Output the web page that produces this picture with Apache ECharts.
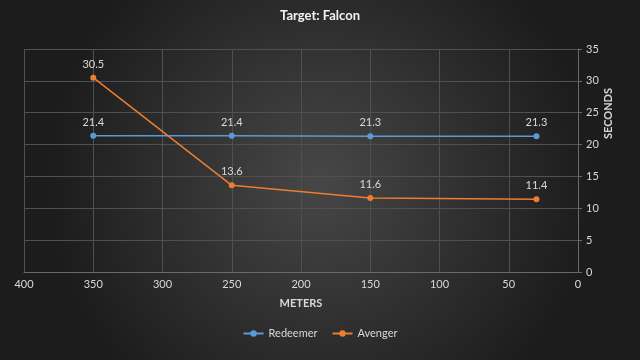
<!DOCTYPE html>
<html><head><meta charset="utf-8">
<script src="https://cdn.jsdelivr.net/npm/echarts@6/dist/echarts.min.js"></script>
<style>html,body{margin:0;padding:0;background:#2a2a2a}#c{width:640px;height:360px}</style>
</head><body><div id="c"></div>
<script>
const meters = [350, 250, 150, 30];
const redeemer = [21.4, 21.4, 21.3, 21.3];
const avenger = [30.5, 13.6, 11.6, 11.4];
const xTicks = [0, 400, 50];
const yTicks = [0, 35, 5];

const chart = echarts.init(document.getElementById('c'));
const font = 'Lato, "Open Sans", sans-serif';
const lbl = {show: true, position: 'top', color: '#d9d9d9', fontSize: 11, fontFamily: font, distance: 5, formatter: p => p.value[1].toFixed(1)};
chart.setOption({
  backgroundColor: {type: 'radial', x: 0.5, y: 0.5, r: 0.75, colorStops: [{offset: 0, color: '#474747'}, {offset: 1, color: '#1c1c1c'}]},
  animation: false,
  title: {text: 'Target: Falcon', left: 'center', top: 4, textStyle: {color: '#f2f2f2', fontSize: 13, fontWeight: 'bold', fontFamily: font}},
  grid: {left: 24, right: 62, top: 49, bottom: 88},
  legend: {bottom: 16, left: 'center', itemWidth: 20, itemHeight: 8, itemGap: 14,
    textStyle: {color: '#d9d9d9', fontSize: 11, fontFamily: font},
    data: ['Redeemer', 'Avenger']},
  xAxis: {type: 'value', inverse: true, min: xTicks[0], max: xTicks[1], interval: xTicks[2],
    name: 'METERS', nameLocation: 'middle', nameGap: 26,
    nameTextStyle: {color: '#d9d9d9', fontSize: 11, fontWeight: 'bold', fontFamily: font},
    axisLine: {show: true, lineStyle: {color: '#6a6a6a'}}, axisTick: {show: false},
    axisLabel: {color: '#d9d9d9', fontSize: 11, fontFamily: font, margin: 7},
    splitLine: {show: true, lineStyle: {color: '#505050', width: 1}}},
  yAxis: {type: 'value', position: 'right', min: yTicks[0], max: yTicks[1], interval: yTicks[2],
    axisLine: {show: true, lineStyle: {color: '#6a6a6a'}}, axisTick: {show: true, length: 4, lineStyle: {color: '#6a6a6a'}},
    axisLabel: {color: '#d9d9d9', fontSize: 11, fontFamily: font, margin: 8},
    splitLine: {show: true, lineStyle: {color: '#505050', width: 1}}},
  graphic: [{type: 'text', left: 603, top: 88, rotation: Math.PI / 2,
    style: {text: 'SECONDS', fill: '#d9d9d9', font: 'bold 11px ' + font}}],
  series: [
    {name: 'Redeemer', type: 'line', data: meters.map((m, i) => [m, redeemer[i]]),
      symbol: 'circle', symbolSize: 6, itemStyle: {color: '#5b9bd5'}, lineStyle: {color: '#5b9bd5', width: 1.5}, label: lbl},
    {name: 'Avenger', type: 'line', data: meters.map((m, i) => [m, avenger[i]]),
      symbol: 'circle', symbolSize: 6, itemStyle: {color: '#ed7d31'}, lineStyle: {color: '#ed7d31', width: 1.5}, label: lbl}
  ]
});
</script></body></html>
